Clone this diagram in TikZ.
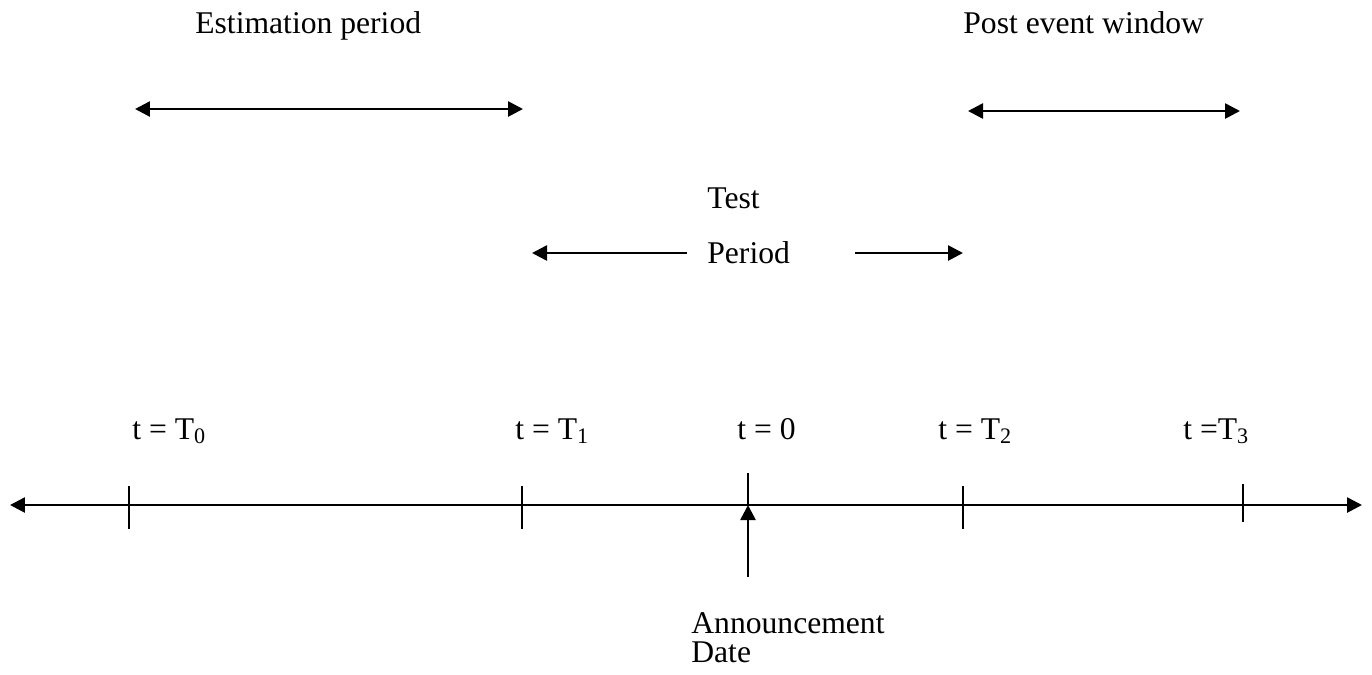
\documentclass[tikz,border=0pt]{standalone}
\usepackage{fontspec}
\setmainfont{Liberation Serif}
\usetikzlibrary{arrows.meta}
\begin{document}
\begin{tikzpicture}[x=0.02cm,y=-0.02cm,font=\fontsize{18}{21}\selectfont]
        \tikzstyle{txt}=[anchor=base west,inner sep=0pt]
        \tikzstyle{axis}=[draw, line width=1.5pt, {Triangle[length=0.3cm,width=0.3cm]}-{Triangle[length=0.3cm,width=0.3cm]}]
        \tikzstyle{span}=[draw, line width=1.5pt, -{Triangle[length=0.3cm,width=0.3cm]}]
        \tikzstyle{tick}=[draw, line width=0.8pt]
        \useasboundingbox (0,0) rectangle (1372,674);
       \begin{scope}
         % time axis
         \coordinate (left) at (10,505);
         \coordinate (right) at (1362,505);
         \path[axis] (left) -- (right);

         \coordinate (a0) at (129,486);  \coordinate (b0) at (129,529);
         \coordinate (a1) at (522,486);  \coordinate (b1) at (522,529);
         \coordinate (az) at (748,473);  \coordinate (bz) at (748,505);
         \coordinate (a2) at (963,486);  \coordinate (b2) at (963,529);
         \coordinate (a3) at (1243,484); \coordinate (b3) at (1243,522);
         \path[tick] (a0) -- (b0);
         \path[tick] (a1) -- (b1);
         \path[tick] (az) -- (bz);
         \path[tick] (a2) -- (b2);
         \path[tick] (a3) -- (b3);

         \node [txt] (l0) at (132,439) {t = T\textsubscript{0}};
         \node [txt] (l1) at (515,439) {t = T\textsubscript{1}};
         \node [txt] (lz) at (737,439) {t = 0};
         \node [txt] (l2) at (938,439) {t = T\textsubscript{2}};
         \node [txt] (l3) at (1183,439) {t =T\textsubscript{3}};

         % announcement
         \coordinate (ann) at (748,577);
         \path[span] (ann) -- (bz);
         \node [txt] (annA) at (691,633) {Announcement};
         \node [txt] (annB) at (691,662) {Date};

         % windows
         \node [txt] (est) at (195,33) {Estimation period};
         \coordinate (e0) at (135,109);
         \coordinate (e1) at (523,109);
         \path[axis] (e0) -- (e1);

         \node [txt] (post) at (963,33) {Post event window};
         \coordinate (p0) at (968,111);
         \coordinate (p1) at (1240,111);
         \path[axis] (p0) -- (p1);

         \node [txt] (test) at (707,208) {Test};
         \node [txt] (per) at (707,263) {Period};
         \coordinate (t0) at (687,253);
         \coordinate (t1) at (532,253);
         \coordinate (t2) at (855,253);
         \coordinate (t3) at (963,253);
         \path[span] (t0) -- (t1);
         \path[span] (t2) -- (t3);
        \end{scope}
      \end{tikzpicture}
\end{document}
